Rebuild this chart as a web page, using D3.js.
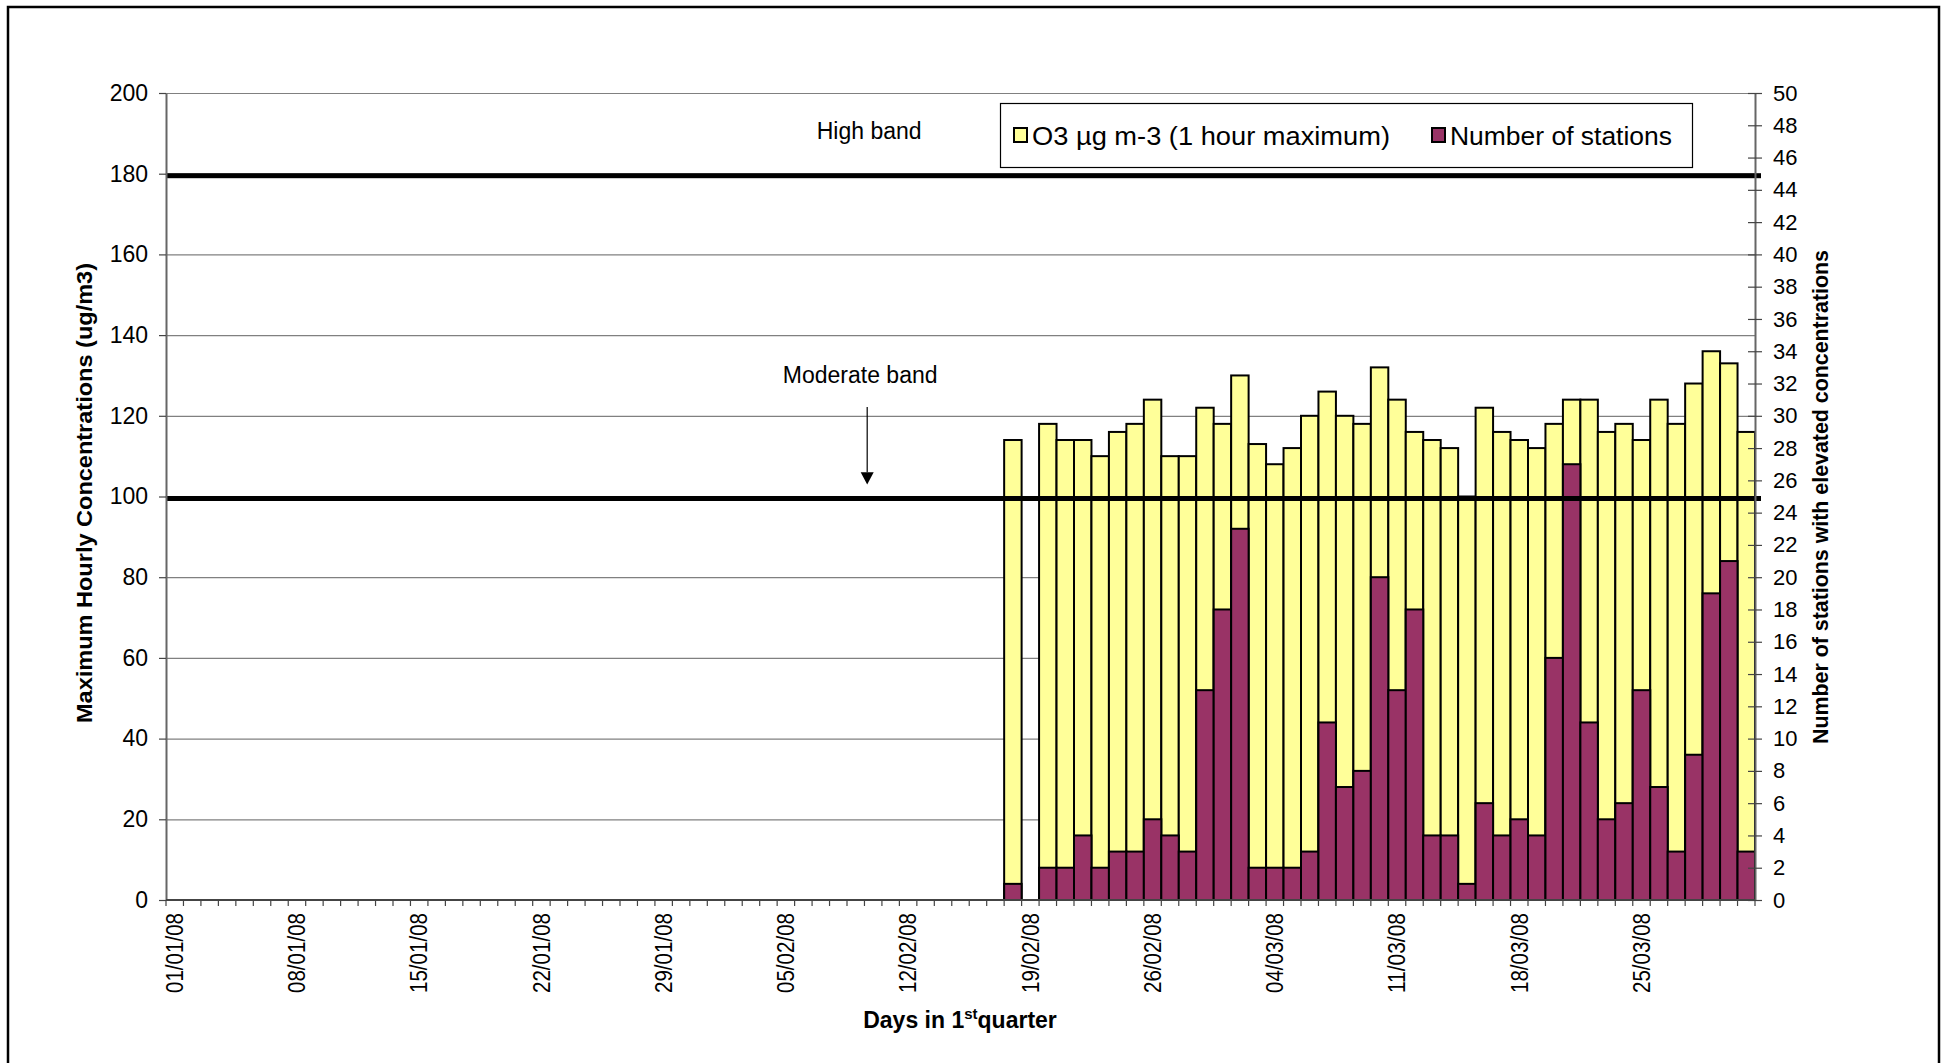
<!DOCTYPE html>
<html>
<head>
<meta charset="utf-8">
<script src="https://cdn.jsdelivr.net/npm/d3@7"></script>
<style>
  html, body { margin: 0; padding: 0; background: #fff; }
  svg { display: block; }
  text { font-family: "Liberation Sans", Arial, sans-serif; fill: #000; }
</style>
</head>
<body>
<svg id="chart" width="1946" height="1063"></svg>
<script>
// Quarter covered by the category axis (1 Jan 2008 – 31 Mar 2008)
const quarterStart = Date.UTC(2008, 0, 1);
const quarterEnd = Date.UTC(2008, 3, 1);

// First day with ozone observations; values follow day by day (null = no data)
const firstObservation = "18/02/08";

// Maximum hourly O3 concentration, µg/m3
const o3Max = [
  114, null, 118, 114, 114, 110, 116, 118, 124, 110, 110, 122,
  118, 130, 113, 108, 112, 120, 126, 120, 118, 132, 124, 116, 114, 112, 100,
  122, 116, 114, 112, 118, 124, 124, 116, 118, 114, 124, 118, 128, 136, 133, 116
];

// Number of stations with elevated concentrations
const stationCount = [
  1, null, 2, 2, 4, 2, 3, 3, 5, 4, 3, 13,
  18, 23, 2, 2, 2, 3, 11, 7, 8, 20, 13, 18, 4, 4, 1,
  6, 4, 5, 4, 15, 27, 11, 5, 6, 13, 7, 3, 9, 19, 21, 3
];

// Axis ticks
const leftTicks = [0, 20, 40, 60, 80, 100, 120, 140, 160, 180, 200];
const rightTicks = d3.range(0, 51, 2);
const dateLabelEvery = 7;

// Information bands drawn as reference lines
const bandLimits = [180, 100];
const bandNames = ["High band", "Moderate band"];

const seriesNames = ["O3 µg m-3 (1 hour maximum)", "Number of stations"];
const seriesColors = ["#FFFF99", "#993366"];

const svg = d3.select("#chart");
const fmt = d3.utcFormat("%d/%m/%y");
const dayLabels = d3.utcDay.range(quarterStart, quarterEnd).map(fmt);

const plot = { left: 166, right: 1755, top: 93, bottom: 900 };

const x = d3.scaleBand().domain(dayLabels).range([plot.left, plot.right]).padding(0);
const yL = d3.scaleLinear().domain([0, 200]).range([plot.bottom, plot.top]);
const yR = d3.scaleLinear().domain([0, 50]).range([plot.bottom, plot.top]);

const startIdx = dayLabels.indexOf(firstObservation);
const rows = o3Max.map((v, i) => ({ day: dayLabels[startIdx + i], o3: v, st: stationCount[i] }))
  .filter(d => d.o3 != null);

// Outer frame
svg.append("rect")
  .attr("x", 8).attr("y", 7).attr("width", 1931).attr("height", 1080)
  .attr("fill", "none").attr("stroke", "#000").attr("stroke-width", 2.5);

// Horizontal gridlines
svg.append("g").selectAll("line").data(leftTicks.filter(t => t > 0)).join("line")
  .attr("x1", plot.left).attr("x2", plot.right)
  .attr("y1", d => yL(d) + 0.5).attr("y2", d => yL(d) + 0.5)
  .attr("stroke", "#808080").attr("stroke-width", 1.2);

// O3 bars (left axis)
svg.append("g").selectAll("rect").data(rows).join("rect")
  .attr("x", d => x(d.day)).attr("width", x.bandwidth())
  .attr("y", d => yL(d.o3)).attr("height", d => yL(0) - yL(d.o3))
  .attr("fill", seriesColors[0]).attr("stroke", "#000").attr("stroke-width", 2);

// Station-count bars (right axis), overlaid on the same category slots
svg.append("g").selectAll("rect").data(rows).join("rect")
  .attr("x", d => x(d.day)).attr("width", x.bandwidth())
  .attr("y", d => yR(d.st)).attr("height", d => yR(0) - yR(d.st))
  .attr("fill", seriesColors[1]).attr("stroke", "#000").attr("stroke-width", 2);

// Band threshold lines
svg.append("g").selectAll("rect").data(bandLimits).join("rect")
  .attr("x", plot.left).attr("width", plot.right - plot.left + 6)
  .attr("y", d => yL(d) - 0.5).attr("height", 5)
  .attr("fill", "#000");

// Band annotations
const annot = svg.append("g").style("font-size", "23px").attr("text-anchor", "middle");
annot.append("text")
  .attr("x", x("10/02/08") + x.bandwidth() / 2 - 4).attr("y", yL(188.6))
  .text(bandNames[0]);
annot.append("text")
  .attr("x", x("10/02/08") + x.bandwidth() / 2 - 13).attr("y", yL(128.1))
  .text(bandNames[1]);
const arrowX = x("10/02/08") + x.bandwidth() / 2 - 6;
annot.append("line")
  .attr("x1", arrowX).attr("x2", arrowX)
  .attr("y1", yL(122.2)).attr("y2", yL(106))
  .attr("stroke", "#000").attr("stroke-width", 1.2);
annot.append("path")
  .attr("d", `M${arrowX - 6.5},${yL(106)} L${arrowX + 6.5},${yL(106)} L${arrowX},${yL(103)} Z`)
  .attr("fill", "#000");

// Left axis
const gL = svg.append("g").attr("transform", `translate(${plot.left},0)`)
  .call(d3.axisLeft(yL).tickValues(leftTicks).tickSize(7).tickSizeOuter(0).tickPadding(11));
gL.select(".domain").attr("stroke", "#666").attr("stroke-width", 2);
gL.selectAll(".tick line").attr("stroke", "#444").attr("stroke-width", 1.2);
gL.selectAll(".tick text").style("font-size", "23px").style("font-family", "Liberation Sans, Arial, sans-serif").attr("fill", "#000");

// Right axis (ticks cross the axis line)
const gR = svg.append("g").attr("transform", `translate(${plot.right},0)`)
  .call(d3.axisRight(yR).tickValues(rightTicks).tickSize(7).tickSizeOuter(0).tickPadding(11));
gR.select(".domain").attr("stroke", "#666").attr("stroke-width", 2);
gR.selectAll(".tick line").attr("x1", -7).attr("stroke", "#444").attr("stroke-width", 1.2);
gR.selectAll(".tick text").style("font-size", "22px").style("font-family", "Liberation Sans, Arial, sans-serif").attr("fill", "#000");

// Bottom axis: a tick between every day, date label every week
const gB = svg.append("g");
gB.append("line")
  .attr("x1", plot.left).attr("x2", plot.right)
  .attr("y1", plot.bottom).attr("y2", plot.bottom)
  .attr("stroke", "#444").attr("stroke-width", 2);
const boundaries = dayLabels.map(d => x(d)).concat([plot.right]);
gB.selectAll("line.tk").data(boundaries).join("line").attr("class", "tk")
  .attr("x1", d => d).attr("x2", d => d)
  .attr("y1", plot.bottom).attr("y2", plot.bottom + 6)
  .attr("stroke", "#444").attr("stroke-width", 1.2);
gB.selectAll("text").data(dayLabels.filter((d, i) => i % dateLabelEvery === 0)).join("text")
  .attr("transform", d => `translate(${x(d) + x.bandwidth() / 2},913) rotate(-90)`)
  .attr("text-anchor", "end").attr("dy", "0.36em")
  .style("font-size", "23px")
  .attr("textLength", 80).attr("lengthAdjust", "spacingAndGlyphs")
  .text(d => d);

// Axis titles
svg.append("text")
  .attr("transform", `translate(92,493) rotate(-90)`)
  .attr("text-anchor", "middle")
  .style("font-size", "22px").style("font-weight", "bold")
  .attr("textLength", 460).attr("lengthAdjust", "spacingAndGlyphs")
  .text("Maximum Hourly Concentrations (ug/m3)");

svg.append("text")
  .attr("transform", `translate(1828,497) rotate(-90)`)
  .attr("text-anchor", "middle")
  .style("font-size", "22px").style("font-weight", "bold")
  .attr("textLength", 494).attr("lengthAdjust", "spacingAndGlyphs")
  .text("Number of stations with elevated concentrations");

const xt = svg.append("text")
  .attr("x", 960).attr("y", 1028).attr("text-anchor", "middle")
  .style("font-size", "23px").style("font-weight", "bold");
xt.append("tspan").text("Days in 1");
xt.append("tspan").attr("dy", -9).style("font-size", "15px").text("st");
xt.append("tspan").attr("dy", 9).text("quarter");

// Legend
const lg = svg.append("g");
lg.append("rect")
  .attr("x", 1000.5).attr("y", 103.5).attr("width", 692).attr("height", 64)
  .attr("fill", "#fff").attr("stroke", "#000").attr("stroke-width", 1.2);
const legendItems = [
  { name: seriesNames[0], color: seriesColors[0], x: 1014, len: 358 },
  { name: seriesNames[1], color: seriesColors[1], x: 1432, len: 222 }
];
legendItems.forEach(it => {
  lg.append("rect")
    .attr("x", it.x).attr("y", 128).attr("width", 13).attr("height", 14)
    .attr("fill", it.color).attr("stroke", "#000").attr("stroke-width", 2);
  lg.append("text")
    .attr("x", it.x + 18).attr("y", 144.5)
    .style("font-size", "26px")
    .attr("textLength", it.len).attr("lengthAdjust", "spacingAndGlyphs")
    .text(it.name);
});
</script>
</body>
</html>
